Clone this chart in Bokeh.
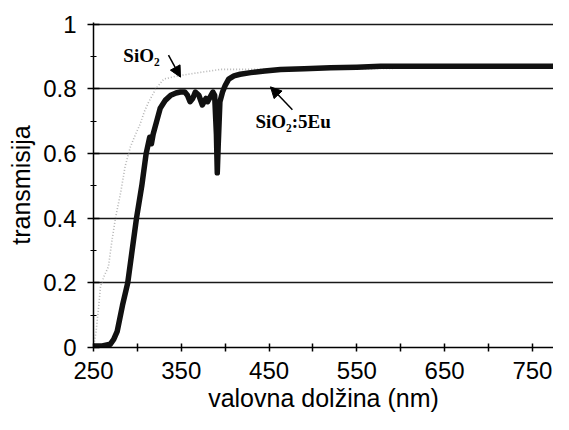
from bokeh.plotting import figure
from bokeh.models import FixedTicker, Label, Arrow, NormalHead, Range1d
from bokeh.embed import file_html
from bokeh.resources import INLINE

# SiO2:5Eu (thick black)
eu_wl = [250, 260, 269, 273, 277, 283, 289, 294, 299, 305,
         310, 314, 316, 318, 322, 326, 332, 338, 344, 349,
         354, 357, 360, 363, 366, 370, 374, 376, 378, 380,
         383, 386, 388, 390, 391, 392, 394, 397, 400, 404,
         410, 417, 429, 445, 463, 490, 520, 550, 577, 620,
         680, 740, 783]
eu_t = [0.005, 0.005, 0.01, 0.025, 0.05, 0.13, 0.2, 0.3, 0.4, 0.5,
        0.6, 0.65, 0.63, 0.66, 0.7, 0.74, 0.765, 0.78, 0.787, 0.79,
        0.79, 0.78, 0.76, 0.77, 0.79, 0.78, 0.75, 0.76, 0.77, 0.76,
        0.775, 0.79, 0.78, 0.66, 0.54, 0.62, 0.76, 0.79, 0.81, 0.83,
        0.84, 0.845, 0.85, 0.855, 0.86, 0.862, 0.865, 0.867, 0.87, 0.87,
        0.87, 0.87, 0.87]

# SiO2 (dotted grey)
si_wl = [250, 253, 256, 258, 262, 267, 271, 275, 281, 286,
         292, 298, 303, 308, 313, 321, 330, 346, 370, 395,
         430, 480, 550, 650, 783]
si_t = [0.0, 0.05, 0.13, 0.19, 0.22, 0.25, 0.33, 0.40, 0.48, 0.56,
        0.62, 0.66, 0.69, 0.73, 0.76, 0.80, 0.83, 0.84, 0.85, 0.86,
        0.86, 0.86, 0.862, 0.865, 0.865]

x_ticks = [250, 350, 450, 550, 650, 750]
x_minor = [300, 400, 500, 600, 700, 800]
y_ticks = [0, 0.2, 0.4, 0.6, 0.8, 1.0]
y_tick_labels = ["0", "0.2", "0.4", "0.6", "0.8", "1"]
y_minor = [0.1, 0.3, 0.5, 0.7, 0.9]
grid_levels = [0.2, 0.4, 0.6, 0.8, 1.0]

p = figure(width=553, height=414, output_backend="svg", toolbar_location=None,
           x_range=Range1d(250, 774), y_range=Range1d(0, 1.005),
           min_border_left=93, min_border_right=0, min_border_top=22,
           min_border_bottom=64)
p.outline_line_color = None
p.background_fill_color = "white"
p.border_fill_color = "white"

p.xgrid.grid_line_color = None
p.ygrid.ticker = FixedTicker(ticks=grid_levels)
p.ygrid.grid_line_color = "black"
p.ygrid.grid_line_width = 1.5
p.ygrid.grid_line_alpha = 0.9

xa = p.xaxis[0]
xa.ticker = FixedTicker(ticks=x_ticks, minor_ticks=x_minor)
xa.axis_line_color = "black"
xa.axis_line_width = 1.5
xa.major_tick_in = 4
xa.major_tick_out = 4
xa.minor_tick_in = 4
xa.minor_tick_out = 4
xa.major_tick_line_width = 1.5
xa.minor_tick_line_width = 1.5
xa.major_label_text_font = "Liberation Sans"
xa.major_label_text_font_size = "24px"
xa.major_label_text_color = "black"
xa.major_label_standoff = 10
xa.axis_label = "valovna dolžina (nm)"
xa.axis_label_text_font = "Liberation Sans"
xa.axis_label_text_font_size = "25px"
xa.axis_label_text_font_style = "normal"
xa.axis_label_text_color = "black"
xa.axis_label_standoff = 2

ya = p.yaxis[0]
ya.ticker = FixedTicker(ticks=y_ticks, minor_ticks=y_minor)
ya.major_label_overrides = {t: l for t, l in zip(y_ticks, y_tick_labels)}
ya.axis_line_color = "black"
ya.axis_line_width = 1.5
ya.major_tick_in = 6
ya.major_tick_out = 6
ya.minor_tick_in = 3
ya.minor_tick_out = 3
ya.major_tick_line_width = 1.5
ya.major_label_text_font = "Liberation Sans"
ya.major_label_text_font_size = "24px"
ya.major_label_text_color = "black"
ya.major_label_standoff = 11
ya.axis_label = "transmisija"
ya.axis_label_text_font = "Liberation Sans"
ya.axis_label_text_font_size = "25px"
ya.axis_label_text_font_style = "normal"
ya.axis_label_text_color = "black"
ya.axis_label_standoff = 5

# curves
p.line(si_wl, si_t, line_color="#b5b5b5", line_width=1.6, line_dash="1 2")
p.line(eu_wl, eu_t, line_color="#111111", line_width=5.5, line_join="round")

# annotations
p.add_layout(Label(x=284, y=0.904, text="SiO₂", text_font="Liberation Serif",
                   text_font_style="bold", text_font_size="19px",
                   text_baseline="alphabetic", text_color="black"))
p.add_layout(Label(x=434.5, y=0.699, text="SiO₂:5Eu", text_font="Liberation Serif",
                   text_font_style="bold", text_font_size="19px",
                   text_baseline="alphabetic", text_color="black"))
p.add_layout(Arrow(x_start=335.4, y_start=0.904, x_end=349.1, y_end=0.836,
                   line_width=1.5, line_color="black",
                   end=NormalHead(size=11, fill_color="black", line_color="black")))
p.add_layout(Arrow(x_start=476.6, y_start=0.735, x_end=451.6, y_end=0.806,
                   line_width=1.5, line_color="black",
                   end=NormalHead(size=11, fill_color="black", line_color="black")))

open("out.html", "w").write(file_html(p, INLINE))
